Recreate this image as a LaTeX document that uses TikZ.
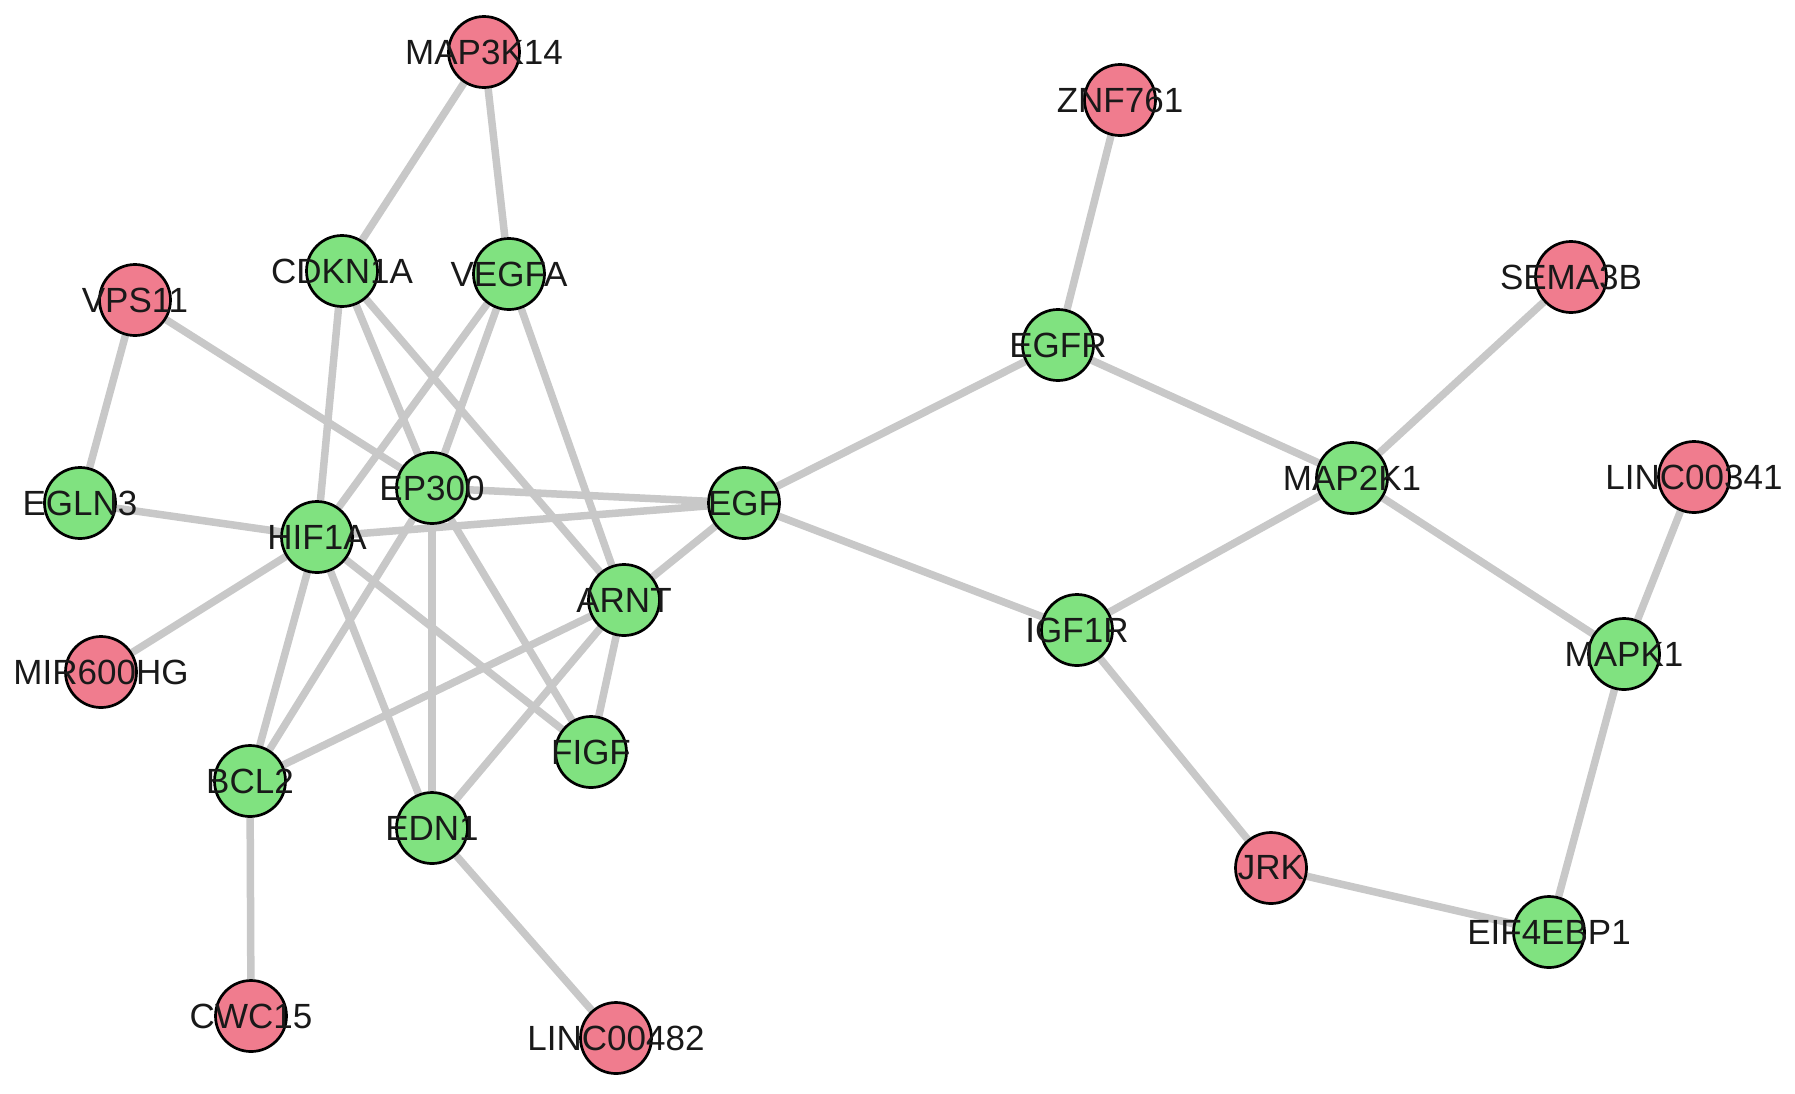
\documentclass[tikz,border=0pt]{standalone}
\usepackage{fontspec}
\setmainfont{Liberation Sans}
\usetikzlibrary{backgrounds}
\definecolor{genegreen}{RGB}{128,226,128}
\definecolor{lncred}{RGB}{240,124,142}
\definecolor{edgegray}{RGB}{200,200,200}
\tikzset{
  gene/.style={
    circle,
    draw=black,
    line width=2.7pt,
    fill=genegreen,
    minimum size=71pt,
    inner sep=0pt
  },
  lnc/.style={
    gene,
    fill=lncred
  },
  link/.style={
    draw=edgegray,
    line width=7.5pt
  },
  every label/.style={
    font=\fontsize{35}{40}\selectfont,
    text=black!90,
    inner sep=0pt
  }
}

\begin{document}
\begin{tikzpicture}[x=1pt, y=-1pt]
        \useasboundingbox (0,0) rectangle (1795,1093);

        % Define the nodes
        \node[lnc]  (map3k14)   at (484,52)   [label=center:MAP3K14] {};
        \node[lnc]  (znf761)    at (1120,100) [label=center:ZNF761] {};
        \node[gene] (cdkn1a)    at (342,271)  [label=center:CDKN1A] {};
        \node[gene] (vegfa)     at (509,274)  [label=center:VEGFA] {};
        \node[lnc]  (vps11)     at (135,300)  [label=center:VPS11] {};
        \node[lnc]  (sema3b)    at (1571,277) [label=center:SEMA3B] {};
        \node[gene] (egfr)      at (1058,345) [label=center:EGFR] {};
        \node[gene] (egln3)     at (80,503)   [label=center:EGLN3] {};
        \node[gene] (hif1a)     at (317,537)  [label=center:HIF1A] {};
        \node[gene] (ep300)     at (432,488)  [label=center:EP300] {};
        \node[gene] (egf)       at (744,503)  [label=center:EGF] {};
        \node[gene] (map2k1)    at (1352,478) [label=center:MAP2K1] {};
        \node[lnc]  (linc00341) at (1694,477) [label=center:LINC00341] {};
        \node[gene] (arnt)      at (624,600)  [label=center:ARNT] {};
        \node[gene] (igf1r)     at (1077,630) [label=center:IGF1R] {};
        \node[lnc]  (mir600hg)  at (101,672)  [label=center:MIR600HG] {};
        \node[gene] (mapk1)     at (1624,654) [label=center:MAPK1] {};
        \node[gene] (bcl2)      at (250,781)  [label=center:BCL2] {};
        \node[gene] (figf)      at (591,752)  [label=center:FIGF] {};
        \node[gene] (edn1)      at (432,828)  [label=center:EDN1] {};
        \node[lnc]  (jrk)       at (1271,868) [label=center:JRK] {};
        \node[gene] (eif4ebp1)  at (1549,932) [label=center:EIF4EBP1] {};
        \node[lnc]  (cwc15)     at (251,1016) [label=center:CWC15] {};
        \node[lnc]  (linc00482) at (616,1038) [label=center:LINC00482] {};

        % Interactions, kept under the nodes
        \begin{pgfonlayer}{background}
        \fill[white] (0,0) rectangle (1795,1093);

        \path[link] (map3k14) -- (cdkn1a);
        \path[link] (map3k14) -- (vegfa);
        \path[link] (vps11) -- (egln3);
        \path[link] (vps11) -- (ep300);
        \path[link] (egln3) -- (hif1a);

        \path[link] (cdkn1a) -- (hif1a);
        \path[link] (cdkn1a) -- (ep300);
        \path[link] (cdkn1a) -- (arnt);
        \path[link] (vegfa) -- (hif1a);
        \path[link] (vegfa) -- (ep300);
        \path[link] (vegfa) -- (arnt);

        \path[link] (hif1a) -- (egf);
        \path[link] (hif1a) -- (mir600hg);
        \path[link] (hif1a) -- (bcl2);
        \path[link] (hif1a) -- (edn1);
        \path[link] (hif1a) -- (figf);
        \path[link] (ep300) -- (egf);
        \path[link] (ep300) -- (bcl2);
        \path[link] (ep300) -- (edn1);
        \path[link] (ep300) -- (figf);
        \path[link] (arnt) -- (egf);
        \path[link] (arnt) -- (bcl2);
        \path[link] (arnt) -- (edn1);
        \path[link] (arnt) -- (figf);
        \path[link] (bcl2) -- (cwc15);
        \path[link] (edn1) -- (linc00482);

        \path[link] (egf) -- (egfr);
        \path[link] (egf) -- (igf1r);
        \path[link] (egfr) -- (znf761);
        \path[link] (egfr) -- (map2k1);
        \path[link] (igf1r) -- (map2k1);
        \path[link] (igf1r) -- (jrk);
        \path[link] (map2k1) -- (sema3b);
        \path[link] (map2k1) -- (mapk1);
        \path[link] (mapk1) -- (linc00341);
        \path[link] (mapk1) -- (eif4ebp1);
        \path[link] (jrk) -- (eif4ebp1);
        \end{pgfonlayer}
\end{tikzpicture}
\end{document}
